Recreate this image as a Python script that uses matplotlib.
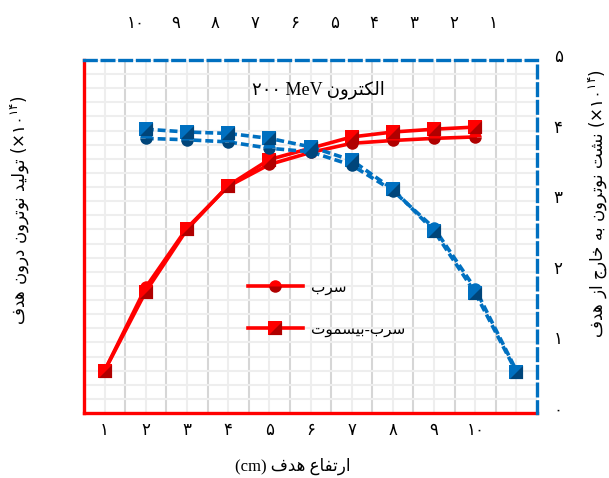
import matplotlib
matplotlib.use("Agg")
import matplotlib.pyplot as plt
from matplotlib.lines import Line2D
from matplotlib.legend_handler import HandlerTuple
import matplotlib.transforms as mtransforms

# ---------------- data ----------------
heights = [1, 2, 3, 4, 5, 6, 7, 8, 9, 10]          # bottom axis categories (cm)
lead_prod = [0.60, 1.78, 2.62, 3.21, 3.52, 3.69, 3.82, 3.86, 3.89, 3.91]
pbbi_prod = [0.60, 1.72, 2.60, 3.22, 3.59, 3.75, 3.91, 3.98, 4.02, 4.05]
leak_x = [2, 3, 4, 5, 6, 7, 8, 9, 10, 11]           # positions of leakage points
lead_leak = [3.89, 3.87, 3.84, 3.75, 3.70, 3.51, 3.15, 2.62, 1.76, 0.60]
pbbi_leak = [4.02, 3.98, 3.96, 3.89, 3.77, 3.58, 3.17, 2.58, 1.70, 0.58]
bottom_labels = ['۱', '۲', '۳', '۴', '۵', '۶', '۷', '۸', '۹', '۱۰', '']
top_ticks = [10, 9, 8, 7, 6, 5, 4, 3, 2, 1]
top_labels = ['۱۰', '۹', '۸', '۷', '۶', '۵', '۴', '۳', '۲', '۱']
y_ticks = [0, 1, 2, 3, 4, 5]
y_labels = ['۰', '۱', '۲', '۳', '۴', '۵']

# ------------- simple Persian shaping (visual order) -------------
FORMS = {
    'ا': ('\uFE8D', '\uFE8E', None, None),
    'ب': ('\uFE8F', '\uFE90', '\uFE91', '\uFE92'),
    'ت': ('\uFE95', '\uFE96', '\uFE97', '\uFE98'),
    'ج': ('\uFE9D', '\uFE9E', '\uFE9F', '\uFEA0'),
    'خ': ('\uFEA5', '\uFEA6', '\uFEA7', '\uFEA8'),
    'د': ('\uFEA9', '\uFEAA', None, None),
    'ر': ('\uFEAD', '\uFEAE', None, None),
    'ز': ('\uFEAF', '\uFEB0', None, None),
    'س': ('\uFEB1', '\uFEB2', '\uFEB3', '\uFEB4'),
    'ش': ('\uFEB5', '\uFEB6', '\uFEB7', '\uFEB8'),
    'ع': ('\uFEC9', '\uFECA', '\uFECB', '\uFECC'),
    'ف': ('\uFED1', '\uFED2', '\uFED3', '\uFED4'),
    'ل': ('\uFEDD', '\uFEDE', '\uFEDF', '\uFEE0'),
    'م': ('\uFEE1', '\uFEE2', '\uFEE3', '\uFEE4'),
    'ن': ('\uFEE5', '\uFEE6', '\uFEE7', '\uFEE8'),
    'ه': ('\uFEE9', '\uFEEA', '\uFEEB', '\uFEEC'),
    'و': ('\uFEED', '\uFEEE', None, None),
    'ی': ('\uFBFC', '\uFBFD', '\uFBFE', '\uFBFF'),
    'ک': ('\uFB8E', '\uFB8F', '\uFB90', '\uFB91'),
}


def rtl(text):
    out = []
    for i, c in enumerate(text):
        if c not in FORMS:
            out.append(c)
            continue
        prev = text[i - 1] if i > 0 else None
        nxt = text[i + 1] if i + 1 < len(text) else None
        jp = prev in FORMS and FORMS[prev][2] is not None
        jn = FORMS[c][2] is not None and nxt in FORMS
        iso, fin, ini, med = FORMS[c]
        out.append(med if (jp and jn) else fin if jp else ini if jn else iso)
    return ''.join(reversed(out))


FAM = ['Liberation Serif', 'DejaVu Sans']
RED, RED_D = '#ff0000', '#b00000'
BLUE, BLUE_D = '#0070c0', '#00457a'
TRI = [(0.5, 0.5), (0.5, -0.5), (-0.5, -0.5), (0.5, 0.5)]

fig = plt.figure(figsize=(6.09, 4.78), dpi=100)
W, H = 609, 478
ax = fig.add_axes([84 / W, 65 / H, 453 / W, 353 / H])
ax.set_xlim(0.5, 11.5)
ax.set_ylim(0, 5)
ax.set_axisbelow(True)

# grid
ax.set_xticks(list(range(1, 12)))
ax.set_xticklabels(bottom_labels, family=FAM, fontsize=12)
ax.set_xticks([k + 0.5 for k in range(1, 11)], minor=True)
ax.set_yticks(y_ticks)
ax.set_yticklabels(y_labels, family=FAM, fontsize=12)
ax.set_yticks([v / 5 for v in range(0, 26)], minor=True)
ax.grid(which='major', axis='x', color='#eeeeee', lw=1.5)
ax.grid(which='minor', axis='x', color='#d6d6d6', lw=1.5)
ax.grid(which='minor', axis='y', color='#eeeeee', lw=1.5)
ax.grid(which='major', axis='y', color='#d6d6d6', lw=1.5)
ax.tick_params(which='both', length=0)
ax.tick_params(axis='y', pad=16)
ax.tick_params(axis='x', pad=7)
for s in ('top', 'right'):
    ax.spines[s].set_visible(False)
for s in ('left', 'bottom'):
    ax.spines[s].set_color(RED)
    ax.spines[s].set_linewidth(2.4)

off = mtransforms.ScaledTranslation(0, 4 / 100, fig.dpi_scale_trans)
for lab in ax.get_yticklabels():
    lab.set_transform(lab.get_transform() + off)


def series(a, x, y, color, dark, marker, ls, z):
    if marker == 'o':
        a.plot(x, y, color=color, lw=2.6, ls=ls, marker='o', ms=9, mew=0,
               mfc=color, fillstyle='top', mfcalt=dark, zorder=z, clip_on=False)
        h = (Line2D([], [], color=color, lw=2.6, marker='o', ms=9, mew=0,
                    mfc=color, fillstyle='top', mfcalt=dark),)
    else:
        a.plot(x, y, color=color, lw=2.6, ls=ls, marker='s', ms=9.5, mew=0,
               mfc=color, zorder=z, clip_on=False)
        a.plot(x, y, ls='none', marker=TRI, ms=9.5, mew=0, mfc=dark,
               zorder=z + 0.1, clip_on=False)
        h = (Line2D([], [], color=color, lw=2.6, marker='s', ms=9.5, mew=0, mfc=color),
             Line2D([], [], ls='none', marker=TRI, ms=9.5, mew=0, mfc=dark))
    return h


h1 = series(ax, heights, lead_prod, RED, RED_D, 'o', '-', 3)
h2 = series(ax, heights, pbbi_prod, RED, RED_D, 's', '-', 4)

# right axis
ax2 = ax.twinx()
ax2.set_ylim(0, 5)
ax2.set_yticks(y_ticks)
ax2.set_yticklabels(y_labels, family=FAM, fontsize=12)
ax2.tick_params(length=0, pad=12)
for lab in ax2.get_yticklabels():
    lab.set_transform(lab.get_transform() + off)
for s in ('left', 'bottom'):
    ax2.spines[s].set_visible(False)
for s in ('top', 'right'):
    ax2.spines[s].set_color(BLUE)
    ax2.spines[s].set_linewidth(2.4)
    ax2.spines[s].set_linestyle((0, (3.5, 1.8)))
DASH = (0, (2.2, 1.1))
series(ax2, leak_x, lead_leak, BLUE, BLUE_D, 'o', DASH, 3)
series(ax2, leak_x, pbbi_leak, BLUE, BLUE_D, 's', DASH, 4)

# top axis
ax3 = ax.twiny()
ax3.set_xlim(11.31, -0.10)
ax3.set_xticks(top_ticks)
ax3.set_xticklabels(top_labels, family=FAM, fontsize=12)
ax3.tick_params(length=0, pad=20)
ax3.set_yticks([])
for s in ax3.spines.values():
    s.set_visible(False)

# legend
leg = ax.legend([h1, h2], [rtl('سرب'), rtl('سرب-بیسموت')],
                handler_map={tuple: HandlerTuple(ndivide=1, pad=0)},
                loc='upper left', bbox_to_anchor=(0.362, 0.375),
                frameon=False, borderaxespad=0, borderpad=0,
                handlelength=3.6, handletextpad=0.5, labelspacing=1.85,
                prop={'family': FAM, 'size': 11})

# texts
fig.text(318 / W, 1 - 90 / H, '۲۰۰ MeV ' + rtl('الکترون'), family=FAM,
         fontsize=13, ha='center', va='center')
fig.text(293 / W, 1 - 466 / H, '(cm) ' + rtl('ارتفاع هدف'), family=FAM,
         fontsize=12, ha='center', va='center')


def mlabel(txt):
    return r'$\mathrm{' + rtl(txt).replace(' ', r'\ ') + r'}\ (\times ۱۰^{۱۴})$'


fig.text(20 / W, 1 - 210 / H, mlabel('تولید نوترون درون هدف'), rotation=90,
         fontsize=12, ha='center', va='center')
fig.text(598 / W, 1 - 204 / H, mlabel('نشت نوترون به خارج از هدف'), rotation=90,
         fontsize=12, ha='center', va='center')

fig.savefig('out.png', dpi=100)
